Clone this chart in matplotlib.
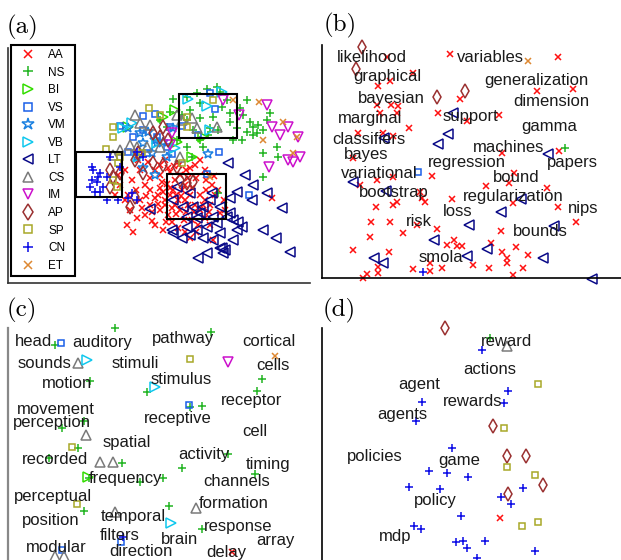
import matplotlib as mpl
mpl.use('Agg')
import matplotlib.pyplot as plt
import matplotlib.patches as mpatches

plt.rcParams['font.family'] = ['Liberation Sans', 'DejaVu Sans']

# figure size in pixels; every panel uses image-pixel coordinates as data units
W, H = 621, 560

classes = ['AA', 'NS', 'BI', 'VS', 'VM', 'VB', 'LT', 'CS', 'IM', 'AP', 'SP', 'CN', 'ET']

# marker, colour, size
styles = {
    'AA': ('x', '#ff1010', 4.5),
    'NS': ('+', '#22b422', 6.0),
    'BI': ('>', '#33dd00', 6.5),
    'VS': ('s', '#1a5fe8', 5.0),
    'VM': ('*', '#1a80e0', 7.5),
    'VB': ('>', '#10c8ee', 6.5),
    'LT': ('<', '#0a0a88', 6.5),
    'CS': ('^', '#7a7a7a', 6.5),
    'IM': ('v', '#cc10cc', 6.5),
    'AP': ('d', '#9a3030', 7.0),
    'SP': ('s', '#a8a828', 5.0),
    'CN': ('+', '#0a0ae6', 6.0),
    'ET': ('x', '#dd8833', 4.5),
}

# ---------------- panel (a): full map ----------------
a_AA = [(127, 225), (152, 221), (130, 210), (140, 200), (136, 190), (145, 185), (150, 178), (155, 170),
        (160, 165), (165, 160), (200, 160), (195, 165), (170, 172), (175, 180), (180, 175), (185, 185),
        (160, 188), (158, 195), (165, 200), (170, 195), (175, 205), (180, 210), (185, 200), (190, 195),
        (195, 205), (200, 210), (205, 200), (210, 205), (215, 195), (220, 213), (160, 210), (168, 215),
        (172, 222), (178, 228), (185, 232), (163, 230), (192, 220), (198, 225), (205, 218), (210, 225),
        (213, 240), (150, 205), (145, 215), (155, 225), (140, 170), (132, 180), (128, 195), (138, 160),
        (148, 162), (125, 170), (120, 185), (118, 175), (272, 198), (188, 178), (192, 188), (162, 182),
        (170, 188), (176, 195), (182, 190), (165, 205), (172, 208), (178, 200), (186, 212), (194, 212),
        (200, 195), (206, 190), (212, 185), (218, 190), (224, 200), (225, 210), (196, 178), (206, 180),
        (155, 198), (150, 190), (142, 208), (137, 218), (133, 232), (190, 238), (196, 232), (160, 175),
        (168, 168), (179, 165), (186, 170), (205, 170), (214, 176), (125, 200), (115, 195),
        (163, 192), (167, 184), (173, 190), (181, 196), (188, 205), (158, 204), (166, 222), (184, 220),
        (176, 214), (152, 212), (146, 196), (174, 166), (190, 168), (203, 205), (209, 212)]
a_NS = [(173, 99), (187, 97), (197, 93), (207, 89), (217, 87), (220, 92), (200, 103), (190, 110),
        (182, 115), (170, 112), (160, 120), (167, 127), (187, 120), (200, 118), (213, 117), (222, 107),
        (230, 113), (230, 122), (240, 108), (243, 115), (250, 122), (253, 127), (258, 125), (263, 130),
        (257, 133), (253, 135), (247, 132), (237, 128), (233, 140), (218, 130), (210, 128), (200, 140),
        (203, 147), (187, 147), (177, 140), (263, 153), (277, 147), (278, 157), (263, 177), (270, 113),
        (267, 120), (192, 157), (218, 193), (193, 130), (208, 135), (242, 140), (227, 100), (247, 100)]
a_BI = [(128, 127), (163, 117), (177, 142), (192, 157), (203, 137), (175, 110)]
a_VS = [(120, 126), (143, 116), (155, 114), (170, 127), (210, 93), (215, 109), (198, 135), (219, 152),
        (207, 174), (249, 195), (147, 153), (172, 154), (157, 137), (133, 137), (143, 130), (182, 126),
        (128, 152), (167, 147)]
a_VM = [(128, 128), (140, 133), (148, 132), (155, 140), (157, 143), (163, 142), (143, 143), (208, 154),
        (143, 168), (155, 175), (173, 128), (167, 157), (137, 157), (152, 153)]
a_VB = [(123, 128), (132, 123), (188, 99), (207, 106), (210, 130), (222, 92), (157, 143), (175, 148),
        (138, 157)]
a_LT = [(228, 163), (245, 175), (253, 185), (237, 192), (230, 198), (252, 200), (267, 193), (282, 208),
        (263, 230), (276, 238), (290, 252), (207, 253), (198, 258), (220, 248), (223, 253), (233, 240),
        (237, 230), (233, 220), (230, 213), (213, 217), (200, 213), (193, 207), (190, 193), (177, 187),
        (173, 200), (183, 207), (173, 233), (182, 238), (190, 235), (203, 238), (213, 240), (220, 233),
        (187, 227), (197, 230), (207, 227), (217, 223), (227, 217), (210, 200), (203, 207), (220, 207),
        (150, 209), (212, 193), (238, 222), (242, 227), (222, 248), (225, 250), (187, 217), (172, 230),
        (197, 218)]
a_CS = [(135, 115), (140, 123), (150, 125), (177, 115), (197, 128), (217, 127), (192, 118), (120, 150),
        (113, 155), (130, 145), (137, 147), (147, 147), (160, 147), (180, 157), (182, 120)]
a_IM = [(223, 100), (239, 115), (267, 105), (272, 127), (280, 135), (288, 127), (298, 137), (300, 157),
        (293, 162), (288, 160), (269, 167), (172, 133), (170, 145)]
a_AP = [(110, 170), (113, 177), (110, 187), (130, 207), (135, 160), (138, 153), (153, 133), (160, 137),
        (153, 163), (163, 165), (177, 167), (187, 183), (193, 182), (180, 180), (168, 140), (163, 127),
        (143, 173), (135, 197), (120, 173)]
a_SP = [(106, 149), (113, 127), (113, 137), (149, 108), (160, 115), (120, 157), (118, 163), (117, 187),
        (113, 180), (142, 153), (182, 163), (187, 117), (213, 100), (187, 127)]
a_CN = [(92, 167), (93, 170), (100, 173), (92, 180), (97, 182), (103, 187), (100, 192), (107, 200),
        (118, 200), (128, 198), (110, 157), (120, 167), (107, 177), (98, 177), (137, 152), (143, 157),
        (137, 200), (132, 193), (90, 187), (95, 192)]
a_ET = [(259, 102), (283, 122), (297, 137), (293, 153), (263, 140), (210, 177), (233, 100)]

# zoom boxes drawn in (a): (left, top, right, bottom)
zoom_boxes = [(179, 94, 237, 138), (76, 152, 122, 197), (167, 174, 226, 219)]

# ---------------- panel (b) ----------------
b_words = ['likelihood', 'variables', 'graphical', 'generalization', 'bayesian', 'dimension', 'marginal',
           'support', 'gamma', 'classifiers', 'machines', 'bayes', 'regression', 'papers', 'variational',
           'bound', 'bootstrap', 'regularization', 'nips', 'loss', 'risk', 'bounds', 'smola']
b_word_x = [337, 457, 353, 484, 358, 513, 338, 443, 521, 332, 473, 344, 428, 547, 341, 493, 359, 463, 568,
            443, 406, 513, 419]
b_word_y = [57, 57, 76, 81, 98, 101, 118, 116, 127, 139, 147, 154, 162, 162, 174, 177, 193, 196, 208,
            211, 222, 231, 258]
b_AA = [(450, 54), (558, 57), (387, 57), (413, 73), (390, 81), (378, 86), (537, 91), (573, 89), (460, 99),
        (377, 105), (391, 105), (398, 106), (438, 113), (380, 113), (397, 113), (499, 115), (467, 121),
        (409, 128), (358, 133), (383, 133), (393, 136), (502, 153), (559, 151), (353, 158), (432, 176),
        (393, 177), (377, 180), (360, 185), (514, 173), (509, 183), (486, 186), (547, 188), (420, 192),
        (422, 198), (425, 202), (452, 199), (397, 202), (393, 205), (376, 207), (513, 203), (558, 207),
        (576, 222), (371, 222), (390, 222), (417, 225), (437, 229), (501, 231), (403, 233), (370, 237),
        (454, 240), (447, 245), (457, 246), (462, 246), (491, 243), (516, 247), (389, 252), (353, 250),
        (502, 252), (528, 255), (507, 258), (507, 263), (523, 268), (473, 265), (489, 268), (442, 268),
        (430, 263), (430, 271), (413, 269), (378, 273), (378, 267), (367, 274), (363, 278), (513, 275)]
b_LT = [(453, 113), (448, 134), (438, 144), (384, 138), (548, 154), (353, 182), (386, 191), (521, 199),
        (501, 212), (469, 225), (554, 226), (434, 240), (487, 249), (467, 256), (543, 258), (374, 258),
        (383, 263), (592, 279)]
b_AP = [(362, 47), (356, 69), (437, 97), (465, 91)]
b_ET = [(528, 61)]
b_NS = [(565, 148)]
b_VS = [(418, 172)]
b_CN = [(423, 272)]

# ---------------- panel (c) ----------------
c_words = ['head', 'auditory', 'pathway', 'cortical', 'sounds', 'stimuli', 'cells', 'motion', 'stimulus',
           'receptor', 'movement', 'receptive', 'perception', 'cell', 'spatial', 'activity', 'recorded',
           'timing', 'frequency', 'channels', 'perceptual', 'formation', 'position', 'temporal', 'response',
           'filters', 'brain', 'array', 'modular', 'direction', 'delay']
c_word_x = [15, 72, 152, 242, 18, 112, 256, 42, 151, 221, 17, 144, 13, 242, 103, 178, 22, 246, 89, 203,
            14, 199, 22, 101, 204, 100, 161, 256, 26, 109, 206]
c_word_y = [342, 343, 339, 342, 363, 363, 365, 384, 380, 400, 409, 418, 423, 432, 442, 454, 460, 465,
            478, 481, 497, 503, 521, 517, 527, 536, 539, 541, 548, 552, 552]
c_NS = [(115, 328), (211, 332), (55, 345), (90, 381), (147, 392), (262, 379), (257, 391), (202, 406),
        (190, 407), (62, 428), (84, 421), (78, 448), (122, 463), (182, 468), (228, 454), (255, 474),
        (163, 478), (140, 482), (89, 478), (84, 511), (169, 506), (202, 529), (49, 458)]
c_VS = [(61, 343), (189, 405), (121, 542), (62, 550)]
c_CS = [(78, 363), (86, 435), (100, 462), (113, 462), (196, 508), (115, 512), (55, 556), (64, 556)]
c_VB = [(87, 360), (155, 387), (171, 523)]
c_SP = [(190, 359), (72, 447), (77, 504)]
c_IM = [(228, 362)]
c_ET = [(275, 356)]
c_CN = [(123, 537)]
c_AA = [(232, 552)]
c_BI = [(88, 477)]

# ---------------- panel (d) ----------------
d_words = ['reward', 'actions', 'agent', 'rewards', 'agents', 'policies', 'game', 'policy', 'mdp']
d_word_x = [481, 463, 398, 443, 377, 347, 438, 414, 379]
d_word_y = [341, 369, 384, 402, 414, 457, 460, 501, 536]
d_AP = [(445, 328), (493, 426), (507, 456), (526, 456), (543, 485), (508, 494)]
d_SP = [(538, 384), (504, 428), (507, 467), (535, 475), (522, 526), (538, 522)]
d_CN = [(482, 350), (508, 391), (504, 403), (422, 402), (416, 421), (452, 448), (429, 471), (447, 473),
        (468, 477), (409, 487), (440, 489), (523, 488), (501, 497), (511, 504), (461, 516), (414, 526),
        (421, 529), (456, 542), (463, 541), (467, 548), (485, 541), (535, 551), (477, 558)]
d_CS = [(507, 346)]
d_NS = [(490, 338)]
d_AA = [(500, 518)]

fig = plt.figure(figsize=(W / 100, H / 100), dpi=100)


def make_panel(x0, y0, x1, y1, spine_color='black', bottom=True):
    ax = fig.add_axes([x0 / W, 1 - y1 / H, (x1 - x0) / W, (y1 - y0) / H])
    ax.set_xlim(x0, x1)
    ax.set_ylim(y1, y0)
    ax.set_xticks([])
    ax.set_yticks([])
    ax.patch.set_visible(False)
    ax.spines['top'].set_visible(False)
    ax.spines['right'].set_visible(False)
    ax.spines['bottom'].set_visible(bottom)
    for s in ('left', 'bottom'):
        ax.spines[s].set_color(spine_color)
        ax.spines[s].set_linewidth(1.2)
    return ax


def draw_points(ax, name, pts):
    m, c, s = styles[name]
    xs = [p[0] for p in pts]
    ys = [p[1] for p in pts]
    line, = ax.plot(xs, ys, ls='none', marker=m, ms=s, mec=c, mfc='none', mew=1.1,
                    clip_on=False, label=name)
    return line


def draw_words(ax, words, xs, ys):
    for w, x, y in zip(words, xs, ys):
        ax.text(x, y, w, ha='left', va='center', fontsize=12, color='#1a1a1a', zorder=5)


# (a)
ax_a = make_panel(8, 48, 310, 283, spine_color='#333333')
a_sets = {'AA': a_AA, 'NS': a_NS, 'BI': a_BI, 'VS': a_VS, 'VM': a_VM, 'VB': a_VB, 'LT': a_LT,
          'CS': a_CS, 'IM': a_IM, 'AP': a_AP, 'SP': a_SP, 'CN': a_CN, 'ET': a_ET}
handles = []
for name in classes:
    handles.append(draw_points(ax_a, name, a_sets[name]))
for (l, t, r, b) in zoom_boxes:
    ax_a.add_patch(mpatches.Rectangle((l, t), r - l, b - t, fill=False, ec='black', lw=1.5, zorder=4))
leg = ax_a.legend(handles=handles, loc='upper left', bbox_to_anchor=(0.01, 0.0, 0.212, 1.013),
                  mode='expand', borderaxespad=0, fontsize=8.5, labelspacing=0.47, handlelength=2.2,
                  handletextpad=0.6, borderpad=0.35, fancybox=False, framealpha=1, edgecolor='black',
                  markerscale=1.15)
leg.get_frame().set_linewidth(1.5)

# (b)
ax_b = make_panel(322, 45, 621, 278)
for name, pts in [('AA', b_AA), ('LT', b_LT), ('AP', b_AP), ('ET', b_ET), ('NS', b_NS), ('VS', b_VS),
                  ('CN', b_CN)]:
    draw_points(ax_b, name, pts)
draw_words(ax_b, b_words, b_word_x, b_word_y)

# (c)
ax_c = make_panel(8, 328, 310, 560, spine_color='#888888', bottom=False)
ax_c.spines['left'].set_linewidth(1.6)
for name, pts in [('NS', c_NS), ('VS', c_VS), ('CS', c_CS), ('VB', c_VB), ('SP', c_SP), ('IM', c_IM),
                  ('ET', c_ET), ('CN', c_CN), ('AA', c_AA), ('BI', c_BI)]:
    draw_points(ax_c, name, pts)
draw_words(ax_c, c_words, c_word_x, c_word_y)

# (d)
ax_d = make_panel(322, 328, 621, 560, bottom=False)
for name, pts in [('AP', d_AP), ('SP', d_SP), ('CN', d_CN), ('CS', d_CS), ('NS', d_NS), ('AA', d_AA)]:
    draw_points(ax_d, name, pts)
draw_words(ax_d, d_words, d_word_x, d_word_y)

# panel letters
for lab, x, y in [('(a)', 7, 33), ('(b)', 324, 31), ('(c)', 7, 316), ('(d)', 323, 316)]:
    fig.text(x / W, 1 - y / H, lab, family='cmr10', fontsize=18, ha='left', va='baseline')

fig.savefig('out.png', dpi=100)
